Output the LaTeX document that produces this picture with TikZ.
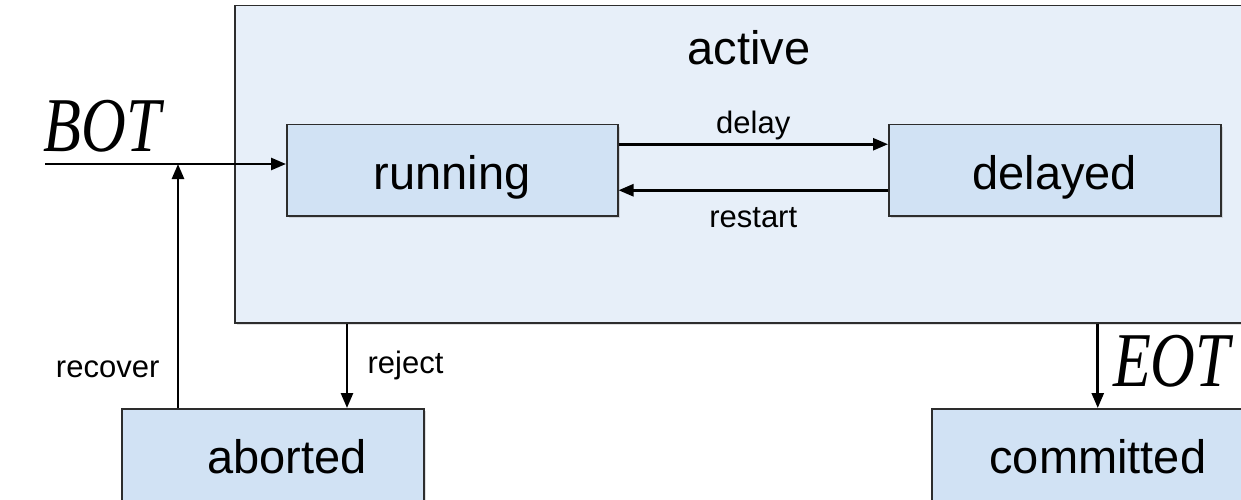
\documentclass[tikz,border=0pt]{standalone}
\usepackage{fontspec}
\setmainfont{Liberation Sans}
\newfontfamily\evtfont{Liberation Serif}
\usetikzlibrary{arrows.meta, positioning, shadows}
\definecolor{outerblue}{RGB}{231,239,249}
\definecolor{boxblue}{RGB}{209,226,244}
\definecolor{edgegray}{RGB}{45,45,45}
\tikzset{
  >={Triangle[length=15pt,width=12pt]},
  phase/.style={draw=edgegray, line width=1.5pt, fill=boxblue, anchor=north west,
    minimum height=91pt, font=\fontsize{47}{52}\selectfont,
    text height=38pt, text depth=0pt,
    drop shadow={shadow xshift=2pt, shadow yshift=-2pt, opacity=0.25}},
  trans/.style={->, line width=2.6pt},
  lbl/.style={font=\fontsize{31}{34}\selectfont},
  evt/.style={font=\evtfont\itshape\fontsize{62}{66}\selectfont, inner sep=0pt},
}
\begin{document}
\begin{tikzpicture}[x=1pt, y=1pt]
		\useasboundingbox (0,0) rectangle (1241,-500);

		% states
		\node[phase, fill=outerblue, minimum width=1028pt, minimum height=317pt] (active) at (234,-5) {};
		\node[font=\fontsize{47}{52}\selectfont] (activename) at ([yshift=-43pt]active.north) {active};
		\node[phase, minimum width=331pt] (running) at (286,-124) {running};
		\node[phase, minimum width=332pt] (delayed) at (888,-124) {delayed};
		\node[phase, minimum width=302pt, minimum height=92pt] (aborted) at (121,-408) {\hspace*{28pt}aborted};
		\node[phase, minimum width=332pt, minimum height=92pt] (committed) at (931,-408) {committed};

		% free ends
		\coordinate (start) at (45,-164);
		\coordinate (join) at ([xshift=57pt]aborted.north west);
		\coordinate (rejectend) at ([xshift=226pt]aborted.north west);
		\node[evt] (bot) at (102,-126) {\scalebox{1}[1.25]{BOT}};

		% transitions
		\draw[trans] (start) -- (running.west |- start);
		\draw[trans] (join) -- (join |- start)
			node[lbl, pos=0.16, left=14pt] {recover};
		\draw[trans] (active.south -| rejectend) -- (rejectend)
			node[lbl, midway, right=16pt] {reject};
		\draw[trans] (active.south -| committed.north) -- (committed.north)
			node[evt, midway, right=14pt, yshift=5pt] {\scalebox{1}[1.25]{EOT}};
		\draw[trans] ([yshift=26pt]running.east) -- ([yshift=26pt]delayed.west)
			node[lbl, midway, above=0pt] {delay};
		\draw[trans] ([yshift=-20pt]delayed.west) -- ([yshift=-20pt]running.east)
			node[lbl, midway, below=13pt] {restart};
	\end{tikzpicture}
\end{document}
